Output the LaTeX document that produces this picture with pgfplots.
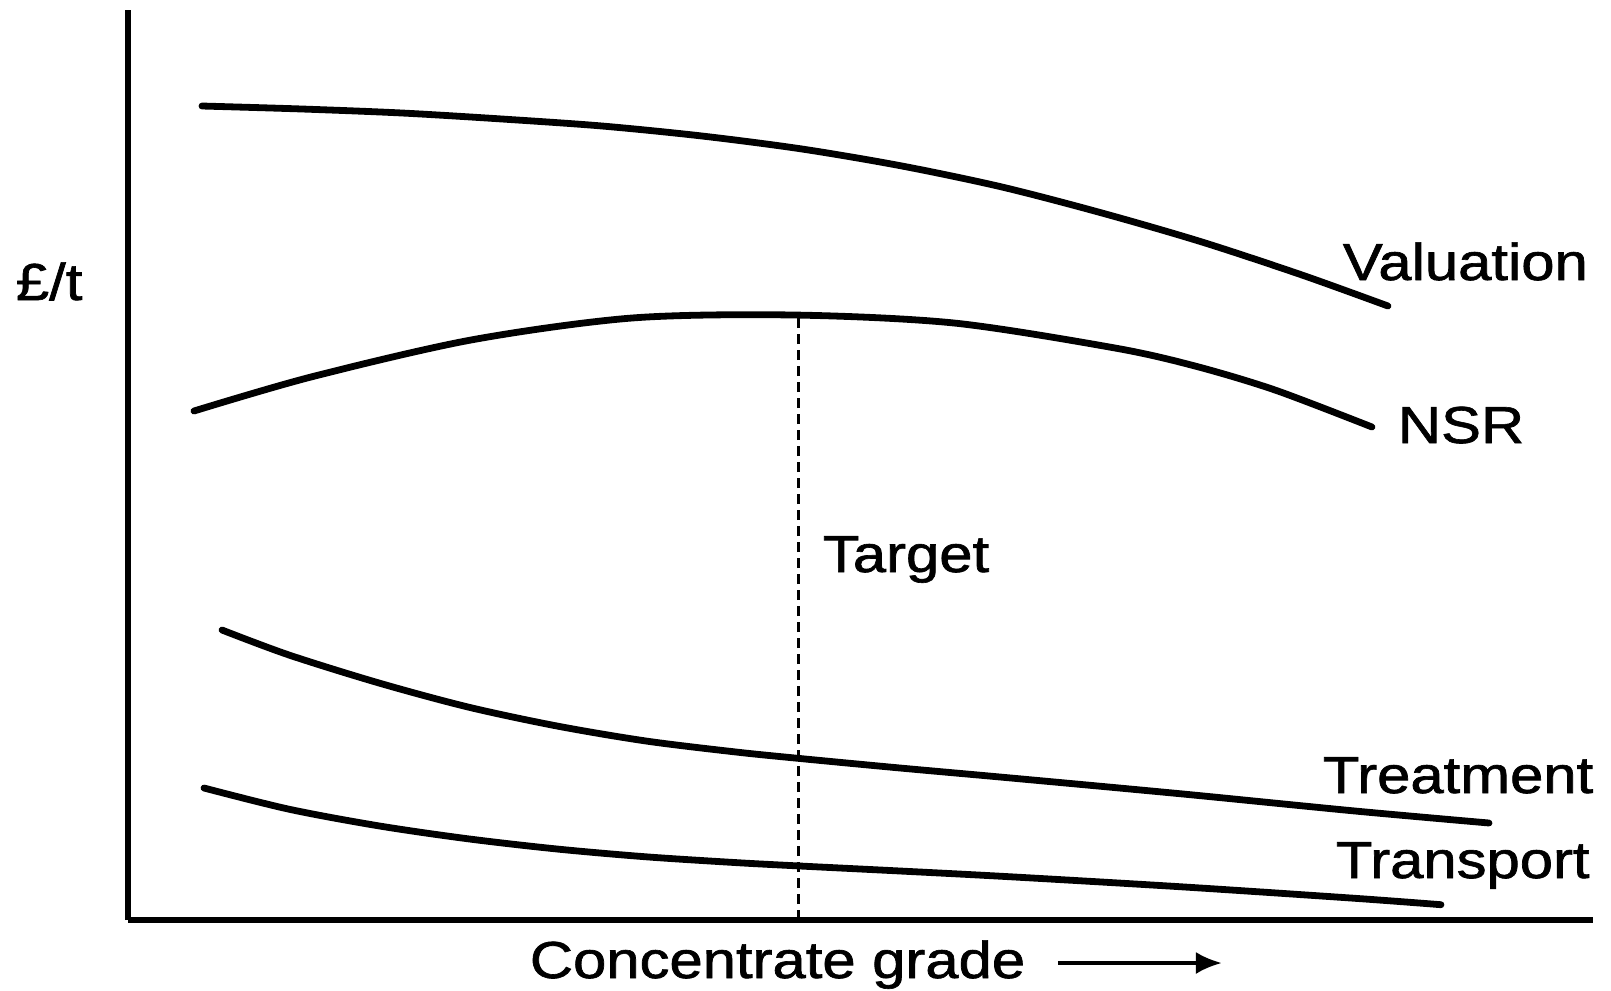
\documentclass[border=0pt]{standalone}
\usepackage{pgfplots}
\pgfplotsset{compat=1.18}
\usetikzlibrary{arrows.meta}
\usepackage{fontspec}
\setmainfont{Liberation Sans}[FakeBold=1.2]
\begin{document}
\begin{tikzpicture}[every node/.style={font=\fontsize{13}{15}\selectfont, xscale=1.15, inner sep=0pt}]
\begin{axis}[
  name=ax,
  scale only axis,
  width=366.25pt, height=227.5pt,
  xmin=0, xmax=1465, ymin=0, ymax=910,
  axis x line*=bottom, axis y line*=left,
  axis line style={line width=1.6pt, black},
  ticks=none,
  clip=false,
]
% Valuation
\addplot[black, line width=1.7pt, smooth, line cap=round] coordinates {
 (74,814) (174,811) (274,807) (374,801) (474,794) (574,784) (674,771) (774,754)
 (874,733) (974,707) (1074,678) (1174,645) (1260,614)};
% NSR
\addplot[black, line width=1.7pt, smooth, line cap=round] coordinates {
 (66,509) (183,543) (343,580) (504,602) (665,605) (826,597) (987,572) (1067,554) (1147,530) (1244,493)};
% Treatment
\addplot[black, line width=1.7pt, smooth, line cap=round] coordinates {
 (94,290) (161,265) (251,237) (340,213) (429,194) (518,179) (608,168) (672,161.5)
 (772,152) (883,142) (1055,126) (1227,109) (1361,97)};
% Transport
\addplot[black, line width=1.7pt, smooth, line cap=round] coordinates {
 (76,132) (161,110.8) (251,94.1) (340,81.2) (429,71) (518,63.2) (608,57.4) (670,54.1)
 (772,49) (883,43.2) (1055,33.1) (1227,21.7) (1313,15.3)};
% Target
\addplot[black, line width=0.75pt, dash pattern=on 2.5pt off 1.5pt] coordinates {(671,0) (671,605)};

\node[anchor=base west] at (axis cs:1214,640) {Valuation};
\node[anchor=base west] at (axis cs:1269,477) {NSR};
\node[anchor=base west] at (axis cs:694,348) {Target};
\node[anchor=base west] at (axis cs:1194,127) {Treatment};
\node[anchor=base west] at (axis cs:1207,42) {Transport};
\node[anchor=base west] at (axis cs:-113,620) {£/t};
\node[anchor=base west] at (axis cs:401,-58) {Concentrate grade};
\draw[line width=1pt, -{Latex[length=6.5pt,width=5.5pt]}] (axis cs:930,-43) -- (axis cs:1094,-43);
\end{axis}
\pgfresetboundingbox
\path ([shift={(-32pt,-17.5pt)}]ax.south west) rectangle ++(402.75pt,247.5pt);
\end{tikzpicture}
\end{document}
